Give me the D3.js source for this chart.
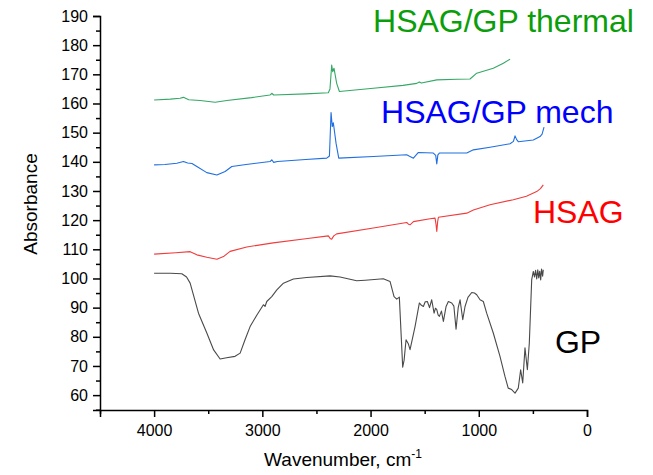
<!DOCTYPE html>
<html>
<head>
<meta charset="utf-8">
<style>
    body {
        margin: 0;
        background: #fff;
        font-family: 'Liberation Sans', Arial, sans-serif;
    }

    .axis .domain {
        stroke: #000;
        stroke-width: 1.5px;
    }

    .axis line {
        stroke: #000;
        stroke-width: 1.5px;
    }

    .axis text {
        font-family: 'Liberation Sans', Arial, sans-serif;
        font-size: 16px;
        fill: #000;
    }
</style>
</head>
<body>
<svg width="653" height="475"></svg>
<script src="https://d3js.org/d3.v7.min.js"></script>
<script>
    // spectra: [wavenumber, absorbance]
    var gpSpectrum = [
        [4000, 101.8], [3850, 101.8], [3744, 101.6], [3700, 100.5], [3667, 98.4], [3590, 88.1],
        [3513, 81.3], [3450, 75.5], [3390, 72.4], [3330, 72.8], [3252, 73.3], [3205, 74.4],
        [3160, 79.0], [3113, 83.5], [3050, 87.5], [2990, 91.0], [2975, 90.4], [2959, 92.1],
        [2913, 93.8], [2866, 96.1], [2805, 98.4], [2713, 99.8], [2590, 100.35], [2374, 100.9],
        [2282, 100.5], [2128, 99.2], [2050, 99.4], [1882, 99.9], [1820, 99.0], [1783, 93.8],
        [1758, 92.9], [1734, 93.6], [1703, 69.6], [1690, 72.0], [1672, 79.0], [1650, 77.5],
        [1635, 75.6], [1589, 83.5], [1549, 91.6], [1530, 90.8], [1512, 90.4], [1495, 92.0],
        [1475, 92.1], [1455, 90.0], [1435, 92.7], [1413, 88.1], [1400, 89.8], [1388, 89.3],
        [1376, 87.5], [1364, 87.0], [1345, 88.8], [1327, 85.3], [1302, 90.4], [1281, 92.1],
        [1250, 91.6], [1230, 90.5], [1210, 82.6], [1190, 90.0], [1173, 92.7], [1148, 85.9],
        [1127, 90.4], [1100, 93.5], [1065, 95.2], [1040, 95.0], [1019, 94.4], [988, 92.7],
        [958, 92.1], [927, 88.1], [866, 81.3], [804, 73.3], [758, 66.4], [728, 62.4],
        [696, 61.9], [665, 60.7], [635, 62.4], [613, 68.7], [594, 64.2], [573, 76.2],
        [551, 68.7], [533, 77.9], [511, 99.6], [496, 102.4], [485, 100.5], [475, 102.8],
        [465, 99.8], [455, 103.0], [446, 100.2], [437, 102.5], [428, 99.5], [420, 103.2],
        [410, 100.8], [404, 103.0]
    ];

    var hsagSpectrum = [
        [4000, 108.35], [3800, 108.8], [3667, 109.2], [3605, 108.1], [3513, 107.3], [3420, 106.6],
        [3359, 107.5], [3298, 109.3], [3144, 110.8], [2900, 112.2], [2600, 113.6], [2390, 114.6],
        [2370, 113.6], [2359, 113.5], [2340, 114.6], [2313, 115.3], [1974, 117.3], [1666, 119.2],
        [1650, 118.6], [1635, 118.4], [1604, 119.5], [1450, 120.5], [1404, 120.7], [1395, 118.5],
        [1388, 116.1], [1380, 119.5], [1373, 121.0], [1111, 122.4], [1050, 123.5], [896, 125.3],
        [681, 127.0], [560, 128.2], [465, 129.8], [430, 130.8], [404, 132.1]
    ];

    var mechSpectrum = [
        [4000, 138.95], [3900, 139.1], [3790, 139.5], [3729, 140.1], [3690, 139.6], [3650, 139.4],
        [3605, 138.4], [3513, 136.3], [3420, 135.5], [3344, 136.7], [3282, 138.4], [3150, 139.1],
        [2928, 140.1], [2913, 140.7], [2895, 139.8], [2860, 140.1], [2600, 140.8], [2405, 141.25],
        [2380, 142.0], [2365, 156.9], [2354, 152.1], [2344, 153.4], [2319, 146.4], [2294, 141.25],
        [1974, 141.8], [1666, 142.4], [1640, 141.9], [1604, 141.25], [1558, 143.2], [1420, 143.0],
        [1398, 142.2], [1388, 139.3], [1378, 142.4], [1364, 143.0], [1111, 143.0], [1050, 144.1],
        [896, 145.0], [711, 146.2], [680, 147.0], [665, 148.9], [650, 147.6], [635, 146.9],
        [496, 147.5], [434, 148.65], [415, 149.5], [397, 151.9]
    ];

    var thermalSpectrum = [
        [4000, 161.2], [3850, 161.5], [3760, 161.8], [3729, 162.1], [3680, 161.3], [3575, 161.0],
        [3436, 160.4], [3328, 161.0], [3100, 162.0], [2930, 162.9], [2913, 163.5], [2895, 162.9],
        [2600, 163.3], [2390, 163.7], [2375, 165.0], [2359, 173.2], [2350, 170.9], [2338, 172.1],
        [2313, 166.9], [2288, 164.1], [1974, 165.2], [1700, 166.2], [1573, 166.9], [1550, 167.4],
        [1530, 167.0], [1388, 168.1], [1200, 168.3], [1081, 168.4], [1019, 170.4], [866, 172.1],
        [773, 173.8], [711, 175.2]
    ];

    var seriesNames = ["GP", "HSAG", "HSAG/GP mech", "HSAG/GP thermal"];
    var seriesData = [gpSpectrum, hsagSpectrum, mechSpectrum, thermalSpectrum];
    var lineColors = ["#4a4a4a", "#f03c3c", "#1f6fe0", "#35a866"];
    var labelColors = ["#000000", "#ff0000", "#0000ff", "#0a9e0a"];

    var xMajorTicks = [4000, 3000, 2000, 1000, 0];
    var xMinorTicks = [4500, 3500, 2500, 1500, 500];
    var yMajorTicks = [60, 70, 80, 90, 100, 110, 120, 130, 140, 150, 160, 170, 180, 190];
    var yMinorTicks = [55, 65, 75, 85, 95, 105, 115, 125, 135, 145, 155, 165, 175, 185];

    // label anchor positions in data units (wavenumber, absorbance), text starts here
    var labelPos = [[296, 74.5], [499, 119.1], [1903, 153.3], [1977, 184.5]];

    var svg = d3.select("svg"),
        margin = {top: 16, right: 66, bottom: 65, left: 100},
        width = +svg.attr("width") - margin.left - margin.right,
        height = +svg.attr("height") - margin.top - margin.bottom,
        g = svg.append("g").attr("transform", "translate(" + margin.left + "," + margin.top + ")");

    var x = d3.scaleLinear().domain([4500, 0]).range([0, width]);
    var y = d3.scaleLinear().domain([54.9, 190]).range([height, 0]);

    // minor ticks first, then the major ones with labels
    g.append("g")
        .attr("class", "axis")
        .attr("transform", "translate(0," + height + ")")
        .call(d3.axisBottom(x).tickValues(xMinorTicks).tickSize(4).tickFormat(""))
        .select(".domain").remove();

    g.append("g")
        .attr("class", "axis")
        .attr("transform", "translate(0," + height + ")")
        .call(d3.axisBottom(x).tickValues(xMajorTicks).tickSizeOuter(0).tickSize(7).tickPadding(8)
            .tickFormat(d3.format("d")));

    g.append("g")
        .attr("class", "axis")
        .call(d3.axisLeft(y).tickValues(yMinorTicks).tickSize(4).tickFormat(""))
        .select(".domain").remove();

    g.append("g")
        .attr("class", "axis")
        .call(d3.axisLeft(y).tickValues(yMajorTicks).tickSizeOuter(0).tickSize(7).tickPadding(5)
            .tickFormat(d3.format("d")));

    var line = d3.line()
        .x(function (d) { return x(d[0]); })
        .y(function (d) { return y(d[1]); });

    g.selectAll(".spectrum")
        .data(seriesData)
        .enter().append("path")
        .attr("class", "spectrum")
        .attr("fill", "none")
        .attr("stroke", function (d, i) { return lineColors[i]; })
        .attr("stroke-width", 1.1)
        .attr("stroke-linejoin", "round")
        .attr("d", line);

    g.selectAll(".series-label")
        .data(seriesNames)
        .enter().append("text")
        .attr("class", "series-label")
        .attr("x", function (d, i) { return x(labelPos[i][0]); })
        .attr("y", function (d, i) { return y(labelPos[i][1]); })
        .attr("fill", function (d, i) { return labelColors[i]; })
        .attr("font-size", "32px")
        .text(function (d) { return d; });

    // axis titles
    svg.append("text")
        .attr("transform", "translate(37," + 204 + ") rotate(-90)")
        .attr("text-anchor", "middle")
        .attr("font-size", "19px")
        .text("Absorbance");

    var xt = svg.append("text")
        .attr("x", 343)
        .attr("y", 466)
        .attr("text-anchor", "middle")
        .attr("font-size", "19px");
    xt.append("tspan").text("Wavenumber, cm");
    xt.append("tspan").attr("dy", -8).attr("font-size", "12px").text("-1");
</script>
</body>
</html>
